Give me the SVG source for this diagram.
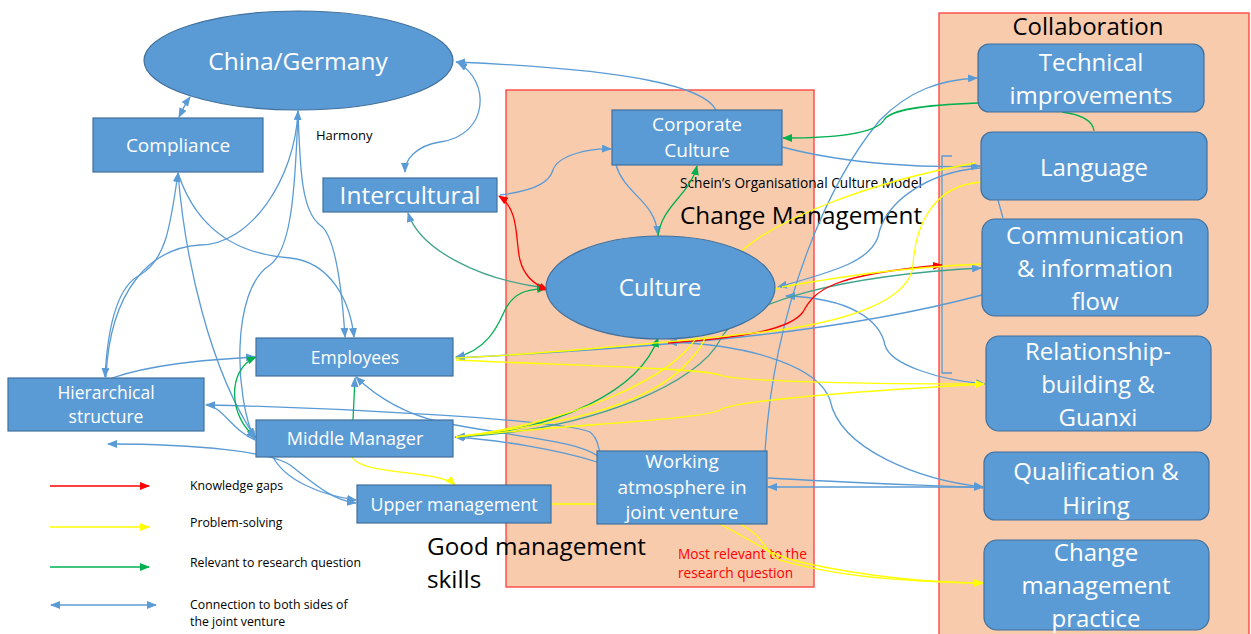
<svg xmlns="http://www.w3.org/2000/svg" width="1251" height="634" viewBox="0 0 1251 634">
<defs>
<style>
.node{fill:#5B9BD5;stroke:#41719C;stroke-width:1.2}
.t{font-family:"Open Sans","Liberation Sans",Arial,sans-serif;fill:#fff;text-anchor:middle}
.k{font-family:"Open Sans","Liberation Sans",Arial,sans-serif;fill:#000}
.rt{font-size:24px}
.lg{font-size:12.3px}
.c{fill:none;stroke-width:1.3}
.b{stroke:#5B9BD5}
.g{stroke:#00B050}
.r{stroke:#FF0000}
.y{stroke:#FFFF00}
.tl{stroke:#3FA38C}
.zone{fill:#F8CBAD;stroke:#FF3B3B;stroke-width:1.3}
</style>
<marker id="ab" viewBox="0 0 10 8" refX="9" refY="4" markerWidth="10" markerHeight="8" markerUnits="userSpaceOnUse" orient="auto-start-reverse"><path d="M0,0 L10,4 L0,8 z" fill="#5B9BD5"/></marker>
<marker id="ag" viewBox="0 0 10 8" refX="9" refY="4" markerWidth="10" markerHeight="8" markerUnits="userSpaceOnUse" orient="auto-start-reverse"><path d="M0,0 L10,4 L0,8 z" fill="#00B050"/></marker>
<marker id="ar" viewBox="0 0 10 8" refX="9" refY="4" markerWidth="10" markerHeight="8" markerUnits="userSpaceOnUse" orient="auto-start-reverse"><path d="M0,0 L10,4 L0,8 z" fill="#FF0000"/></marker>
<marker id="ay" viewBox="0 0 10 8" refX="9" refY="4" markerWidth="10" markerHeight="8" markerUnits="userSpaceOnUse" orient="auto-start-reverse"><path d="M0,0 L10,4 L0,8 z" fill="#FFFF00"/></marker>
</defs>
<rect width="1251" height="634" fill="#fff"/>

<g id="zone-change">
<rect class="zone" x="506" y="90" width="308" height="497"/>
</g>
<g id="zone-collab">
<rect class="zone" x="939" y="13" width="310" height="625"/>
<text class="k" x="1088" y="35" font-size="24" text-anchor="middle">Collaboration</text>
</g>

<g id="labels">
<text class="k" x="316" y="140" font-size="13">Harmony</text>
<text class="k" x="680" y="188" font-size="13.7">Schein’s Organisational Culture Model</text>
<text class="k" x="680" y="224" font-size="24.3">Change Management</text>
<text class="k" x="427" y="555" font-size="24.3">Good management</text>
<text class="k" x="427" y="588" font-size="24.3">skills</text>
<text x="678" y="559" font-size="13.7" font-family="Open Sans, Liberation Sans, Arial, sans-serif" fill="#FF0000">Most relevant to the</text>
<text x="678" y="578" font-size="13.7" font-family="Open Sans, Liberation Sans, Arial, sans-serif" fill="#FF0000">research question</text>
</g>

<g id="connectors">
<!-- blue -->
<path class="c b" d="M179,117 C182,111 185,104 190,97" marker-start="url(#ab)" marker-end="url(#ab)"/>
<path class="c b" d="M716,110 C705,88 640,70 456,62" marker-end="url(#ab)"/>
<path class="c b" d="M458,63 C490,80 490,135 440,142 C415,146 405,160 405,172" marker-start="url(#ab)" marker-end="url(#ab)"/>
<path class="c b" d="M500,195 C540,190 550,180 553,170 C558,155 590,148 611,149" marker-end="url(#ab)"/>
<path class="c b" d="M616,165 C625,195 655,200 658,235" marker-end="url(#ab)"/>
<path class="c b" d="M782,147 C850,165 930,168 980,166" marker-end="url(#ab)"/>
<path class="c b" d="M178,173 C170,230 165,260 140,275 C120,285 108,320 105,377" marker-start="url(#ab)" marker-end="url(#ab)"/>
<path class="c b" d="M178,173 C185,260 210,370 255,437" marker-end="url(#ab)"/>
<path class="c b" d="M178,173 C200,240 250,255 290,258 C330,262 350,300 354,337" marker-end="url(#ab)"/>
<path class="c b" d="M298,111 C295,180 250,245 200,245 C150,248 110,290 106,377" marker-start="url(#ab)"/>
<path class="c b" d="M298,111 C300,160 300,210 320,225 C335,235 342,290 345,337" marker-end="url(#ab)"/>
<path class="c b" d="M298,111 C295,200 290,250 270,265 C230,290 235,400 255,440" marker-end="url(#ab)"/>
<path class="c b" d="M112,378 C150,365 200,360 255,357" marker-end="url(#ab)"/>
<path class="c b" d="M206,405 C350,408 560,420 590,432 C600,440 597,448 600,451" marker-start="url(#ab)"/>
<path class="c b" d="M207,404 C225,410 232,430 255,440"/>
<path class="c b" d="M108,444 C200,444 270,452 290,465 C310,480 330,500 356,503" marker-start="url(#ab)" marker-end="url(#ab)"/>
<path class="c b" d="M273,457 C285,480 320,495 356,500" marker-end="url(#ab)"/>
<path class="c b" d="M356,377 C380,400 410,415 440,422 C520,438 575,440 598,456" marker-start="url(#ab)"/>
<path class="c b" d="M455,437 C500,440 560,450 597,462" marker-start="url(#ab)"/>
<path class="c b" d="M765,451 C775,300 830,180 880,120 C910,90 940,80 977,78" marker-end="url(#ab)"/>
<path class="c b" d="M768,487 L983,487" marker-start="url(#ab)" marker-end="url(#ab)"/>
<path class="c b" d="M768,478 C850,483 950,486 983,488"/>
<path class="c b" d="M668,342 C760,345 820,370 830,400 C840,450 920,480 983,487" marker-start="url(#ab)" marker-end="url(#ab)"/>
<path class="c b" d="M786,296 C850,298 880,320 885,345 C890,365 940,380 985,384" marker-start="url(#ab)" marker-end="url(#ab)"/>
<path class="c b" d="M778,287 C840,270 870,260 878,237 C885,200 930,172 980,168" marker-start="url(#ab)"/>
<path class="c b" d="M982,295 C850,330 700,345 456,358" marker-end="url(#ab)"/>
<path class="c b" d="M998,200 L1003,218"/>
<path class="c b" d="M952,156 L942,156 L942,373 L952,373"/>
<!-- green -->
<path class="c g" d="M658,236 C662,205 690,195 697,166" marker-end="url(#ag)"/>
<path class="c tl" d="M408,213 C420,250 480,280 546,288" marker-start="url(#ab)" marker-end="url(#ag)"/>
<path class="c g" d="M456,357 C490,350 500,320 505,310 C515,290 530,290 546,288" marker-start="url(#ab)" marker-end="url(#ag)"/>
<path class="c g" d="M353,420 L355,378" marker-end="url(#ab)"/>
<path class="c g" d="M256,437 C230,420 225,370 256,357" marker-start="url(#ab)" marker-end="url(#ag)"/>
<path class="c g" d="M456,437 C560,430 640,390 658,338" marker-start="url(#ab)" marker-end="url(#ag)"/>
<path class="c g" d="M978,103 C920,105 890,110 884,120 C875,135 830,138 783,138" marker-end="url(#ag)"/>
<path class="c g" d="M1062,112 C1085,115 1093,122 1094,131"/>
<path class="c tl" d="M456,437 C600,430 700,380 720,340 C740,300 850,275 981,268" marker-end="url(#ab)"/>
<!-- red -->
<path class="c r" d="M499,196 C520,210 515,240 520,260 C525,280 540,287 548,290" marker-start="url(#ar)" marker-end="url(#ar)"/>
<path class="c r" d="M668,343 C740,338 790,330 803,312 C815,290 830,275 942,265" marker-end="url(#ar)"/>
<!-- yellow -->
<path class="c y" d="M975,163 C880,180 760,220 727,267 C705,300 720,330 690,360 C640,420 500,430 456,437"/>
<path class="c y" d="M982,182 C930,185 915,230 913,265 C910,300 850,320 780,330 C650,345 520,355 456,358"/>
<path class="c y" d="M456,437 C560,425 680,380 700,330 C712,305 740,295 780,288"/>
<path class="c y" d="M782,287 C850,275 900,268 982,264"/>
<path class="c y" d="M456,360 C560,365 700,368 720,375 C735,382 880,384 984,384" marker-end="url(#ay)"/>
<path class="c y" d="M456,437 C560,425 700,420 720,410 C735,400 880,390 984,384" marker-end="url(#ay)"/>
<path class="c y" d="M352,457 C360,475 440,470 455,485" marker-end="url(#ay)"/>
<path class="c y" d="M551,504 L597,504"/>
<path class="c y" d="M720,524 C760,545 770,555 800,562 C870,578 940,583 983,583" marker-end="url(#ay)"/>
<path class="c y" d="M740,524 C770,540 760,550 780,560 C850,580 930,582 983,583"/>
</g>

<g id="china-germany">
<ellipse class="node" cx="298.5" cy="60.5" rx="154.5" ry="49.5"/>
<text class="t" x="298" y="70" font-size="24.5">China/Germany</text>
</g>
<g id="compliance">
<rect class="node" x="93" y="118" width="170" height="54"/>
<text class="t" x="178" y="152" font-size="19">Compliance</text>
</g>
<g id="intercultural">
<rect class="node" x="323" y="178" width="174" height="34"/>
<text class="t" x="410" y="204" font-size="24.5">Intercultural</text>
</g>
<g id="corporate-culture">
<rect class="node" x="612" y="110" width="170" height="55"/>
<text class="t" x="697" y="131" font-size="19">Corporate</text>
<text class="t" x="697" y="157" font-size="19">Culture</text>
</g>
<g id="culture">
<ellipse class="node" cx="660.5" cy="287.5" rx="114.5" ry="51.5"/>
<text class="t" x="660" y="296" font-size="24">Culture</text>
</g>
<g id="employees">
<rect class="node" x="256" y="338" width="197" height="38"/>
<text class="t" x="355" y="364" font-size="17.5">Employees</text>
</g>
<g id="hierarchical-structure">
<rect class="node" x="8" y="378" width="196" height="53"/>
<text class="t" x="106" y="399" font-size="17.5">Hierarchical</text>
<text class="t" x="106" y="423" font-size="17.5">structure</text>
</g>
<g id="middle-manager">
<rect class="node" x="256" y="420" width="197" height="37"/>
<text class="t" x="355" y="445" font-size="18">Middle Manager</text>
</g>
<g id="upper-management">
<rect class="node" x="357" y="485" width="194" height="38"/>
<text class="t" x="454" y="511" font-size="17.8">Upper management</text>
</g>
<g id="working-atmosphere">
<rect class="node" x="597" y="451" width="170" height="73"/>
<text class="t" x="682" y="468" font-size="19">Working</text>
<text class="t" x="682" y="494" font-size="19">atmosphere in</text>
<text class="t" x="682" y="519" font-size="19">joint venture</text>
</g>
<g id="technical-improvements">
<rect class="node" x="978" y="44" width="226" height="68" rx="11"/>
<text class="t rt" x="1091" y="71">Technical</text>
<text class="t rt" x="1091" y="104">improvements</text>
</g>
<g id="language">
<rect class="node" x="981" y="132" width="226" height="68" rx="11"/>
<text class="t rt" x="1094" y="176">Language</text>
</g>
<g id="communication">
<rect class="node" x="982" y="219" width="226" height="97" rx="13"/>
<text class="t rt" x="1095" y="244">Communication</text>
<text class="t rt" x="1095" y="277">&amp; information</text>
<text class="t rt" x="1095" y="310">flow</text>
</g>
<g id="relationship">
<rect class="node" x="986" y="336" width="225" height="95" rx="13"/>
<text class="t rt" x="1098" y="360">Relationship-</text>
<text class="t rt" x="1098" y="393">building &amp;</text>
<text class="t rt" x="1098" y="426">Guanxi</text>
</g>
<g id="qualification">
<rect class="node" x="984" y="452" width="225" height="68" rx="11"/>
<text class="t rt" x="1096" y="480">Qualification &amp;</text>
<text class="t rt" x="1096" y="514">Hiring</text>
</g>
<g id="change-practice">
<rect class="node" x="984" y="540" width="225" height="90" rx="13"/>
<text class="t rt" x="1096" y="561">Change</text>
<text class="t rt" x="1096" y="594">management</text>
<text class="t rt" x="1096" y="627">practice</text>
</g>

<g id="legend">
<path class="c r" d="M50,486 L149,486" marker-end="url(#ar)"/>
<path class="c y" d="M50,527 L149,527" marker-end="url(#ay)"/>
<path class="c g" d="M50,567 L149,567" marker-end="url(#ag)"/>
<path class="c b" d="M51,605 L156,605" marker-start="url(#ab)" marker-end="url(#ab)"/>
<text class="k lg" x="190" y="490">Knowledge gaps</text>
<text class="k lg" x="190" y="527">Problem-solving</text>
<text class="k lg" x="190" y="567">Relevant to research question</text>
<text class="k lg" x="190" y="609">Connection to both sides of</text>
<text class="k lg" x="190" y="626">the joint venture</text>
</g>
</svg>
